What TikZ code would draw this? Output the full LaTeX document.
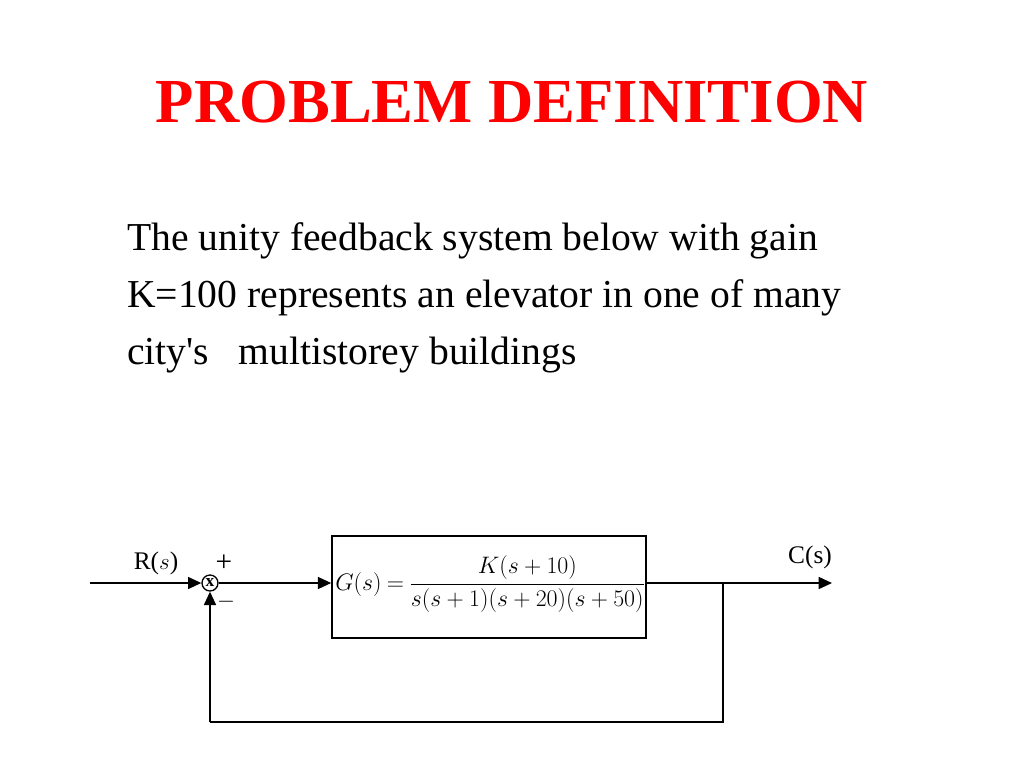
\documentclass[tikz,border=0pt]{standalone}
\usepackage{amsmath}
\usepackage{fontspec}
\setmainfont{Liberation Serif}
\usetikzlibrary{arrows.meta,calc}
\begin{document}
\begin{tikzpicture}[x=0.75pt,y=-0.75pt,
  sig/.style={line width=1.2pt,-{Triangle[length=10pt,width=9pt]}},
  wire/.style={line width=1.2pt},
  bodytxt/.style={anchor=base west,inner sep=0pt,font=\fontsize{29.7}{36}\selectfont},
  dtxt/.style={inner sep=0pt,font=\fontsize{19}{22}\selectfont}]
\useasboundingbox[fill=white] (0,0) rectangle (1024,768);
\node[text=red,font=\fontsize{47}{56}\selectfont\bfseries] (title) at (512,102) {PROBLEM DEFINITION};
\node[bodytxt] (l1) at (127,250) {The unity feedback system below with gain};
\node[bodytxt] (l2) at (127,307) {K=100 represents an elevator in one of many};
\node[bodytxt] (l3) at (127,364) {city\textquotesingle s\ \ \ multistorey buildings};
% diagram
\coordinate (in) at (90,583);
\node[draw,circle,line width=1pt,minimum size=12pt,inner sep=0pt,font=\fontsize{13}{13}\selectfont\bfseries] (sum) at (210,583) {x};
\node[draw,line width=1.2pt,minimum width=235.5pt,minimum height=76.5pt,inner sep=0pt] (box) at (489,587) {};
\node[dtxt,anchor=base west,font=\fontsize{19}{21}\selectfont] (G) at (335,590) {\scalebox{1.035}{$G(s)\mskip-1mu=\mskip-1mu\dfrac{K(s+10)}{s(s+1)(s+20)(s+50)}$}};
\coordinate (out) at (832,583);
\coordinate (br) at (723,583);
\coordinate (fb) at (210,722);
\node[dtxt] (R) at (156,563) {R($s$)};
\node[dtxt] (C) at (810,557) {C(s)};
\node[dtxt,font=\fontsize{22}{22}\selectfont] (plus) at (224,563) {+};
\node[dtxt,font=\fontsize{16}{16}\selectfont] (minus) at (226,602) {$-$};
\draw[sig] (in) -- (sum.west);
\draw[sig] (sum.east) -- (sum -| box.west);
\draw[sig] (sum -| box.east) -- (out);
\draw[wire] (br) |- (fb);
\draw[sig] (fb) -- (sum.south);
\end{tikzpicture}
\end{document}
